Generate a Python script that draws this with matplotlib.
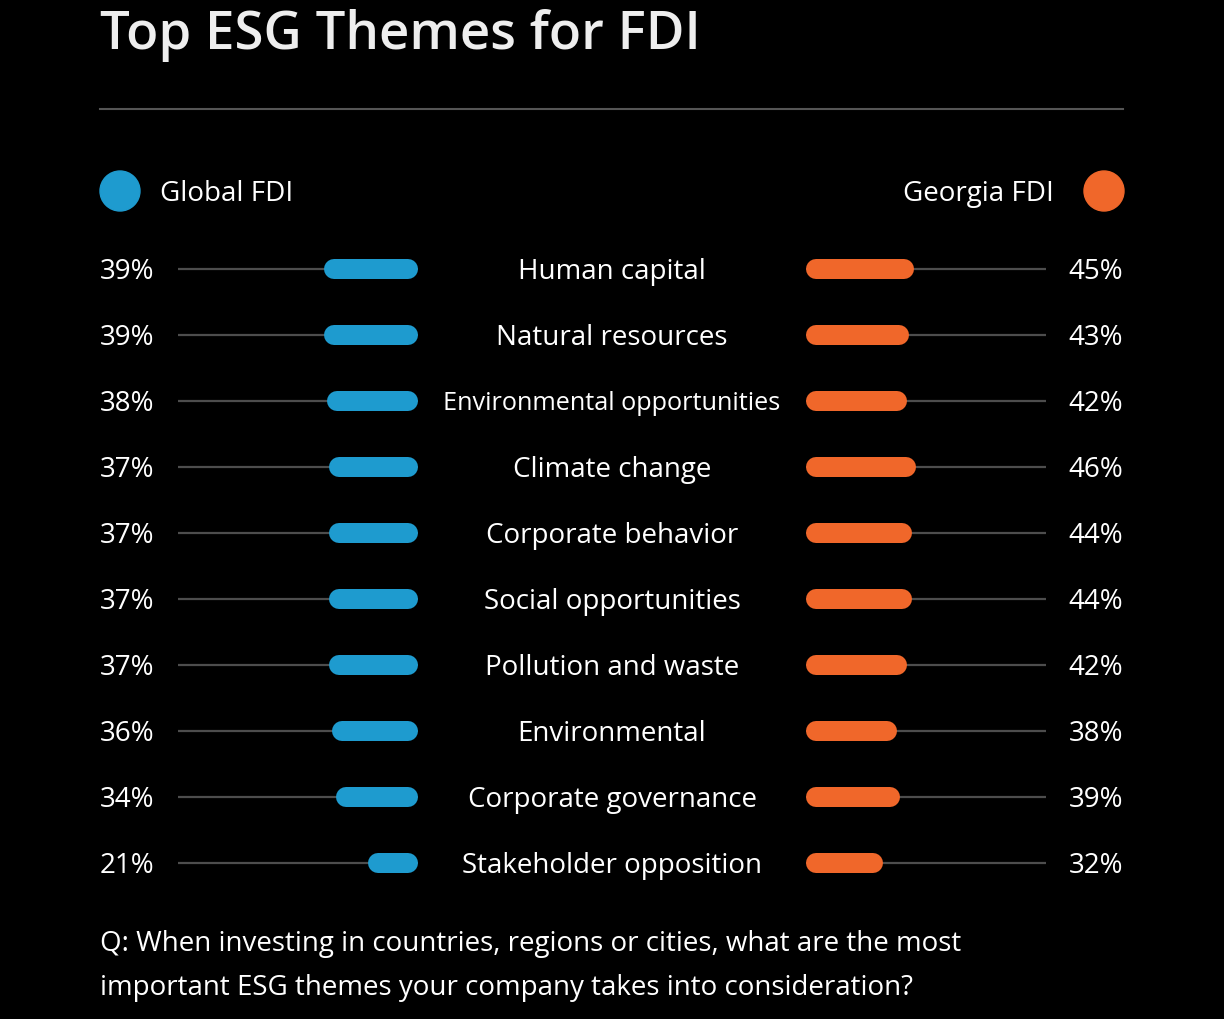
import matplotlib
matplotlib.use("Agg")
import matplotlib.pyplot as plt
import numpy as np
from matplotlib.patches import Ellipse

categories = ["Human capital", "Natural resources", "Environmental opportunities",
              "Climate change", "Corporate behavior", "Social opportunities",
              "Pollution and waste", "Environmental", "Corporate governance",
              "Stakeholder opposition"]
global_fdi = [39, 39, 38, 37, 37, 37, 37, 36, 34, 21]
georgia_fdi = [45, 43, 42, 46, 44, 44, 42, 38, 39, 32]
series_names = ["Global FDI", "Georgia FDI"]
title = "Top ESG Themes for FDI"
question = ("Q: When investing in countries, regions or cities, what are the most\n"
            "important ESG themes your company takes into consideration?")

BLUE = "#1E9BCF"
ORANGE = "#F0672A"
GRID = "#4d4d4d"
WHITE = "#FFFFFF"
FONT = "Open Sans"
FS = 20
MAX_LABEL_W = 338  # px available between the bars for a centre label

W, H = 1224, 1020
fig = plt.figure(figsize=(W / 100, H / 100), dpi=100, facecolor="black")


def fx(px):
    return px / W


def fy(py):
    return 1 - py / H


row_top, row_step = 270, 66
n = len(categories)
ax_top = row_top - row_step / 2
ax_h = row_step * n


def make_ax(x0, x1, invert):
    ax = fig.add_axes([fx(x0), fy(ax_top + ax_h), fx(x1 - x0), ax_h / H])
    ax.set_facecolor("none")
    ax.set_xlim((100, 0) if invert else (0, 100))
    ax.set_ylim(n - 0.5, -0.5)
    ax.axis("off")
    return ax


axL = make_ax(178, 418, True)
axR = make_ax(806, 1046, False)

bar_h_px = 20
lw_pt = bar_h_px * 72 / 100
r_data = (bar_h_px / 2) / 2.4  # pixels -> percent units (240px = 100%)

ys = np.arange(n)
for ax, vals, col in [(axL, global_fdi, BLUE), (axR, georgia_fdi, ORANGE)]:
    for y, v in zip(ys, vals):
        ax.plot([0, 100], [y, y], color=GRID, lw=1.6, solid_capstyle="butt", zorder=1)
        ax.plot([r_data, v - r_data], [y, y], color=col, lw=lw_pt,
                solid_capstyle="round", zorder=2)

renderer = fig.canvas.get_renderer()
dy = 2
for i, (c, g, ge) in enumerate(zip(categories, global_fdi, georgia_fdi)):
    y = row_top + i * row_step + dy
    t = fig.text(fx(612), fy(y), c, ha="center", va="center", color=WHITE,
                 fontsize=FS, family=FONT)
    w = t.get_window_extent(renderer).width
    if w > MAX_LABEL_W:
        t.set_fontsize(FS * MAX_LABEL_W / w)
    fig.text(fx(100), fy(y), f"{g}%", ha="left", va="center", color=WHITE,
             fontsize=FS, family=FONT)
    fig.text(fx(1123), fy(y), f"{ge}%", ha="right", va="center", color=WHITE,
             fontsize=FS, family=FONT)

# title
fig.text(fx(100), fy(36), title, ha="left", va="center", color="#EEEEEE",
         fontsize=38, fontweight="semibold", family="Open Sans")
# separator line
fig.add_artist(plt.Line2D([fx(100), fx(1123)], [fy(110), fy(110)],
                          color="#555555", lw=1.5))

# legend
fig.add_artist(Ellipse((fx(120), fy(192)), 40 / W, 40 / H, color=BLUE,
                       transform=fig.transFigure))
fig.add_artist(Ellipse((fx(1104), fy(192)), 40 / W, 40 / H, color=ORANGE,
                       transform=fig.transFigure))
fig.text(fx(160), fy(192 + dy), series_names[0], ha="left", va="center", color=WHITE,
         fontsize=FS, family=FONT)
fig.text(fx(1054), fy(192 + dy), series_names[1], ha="right", va="center", color=WHITE,
         fontsize=FS, family=FONT)

# question
fig.text(fx(100), fy(966), question, ha="left", va="center", color=WHITE,
         fontsize=FS, family=FONT, linespacing=1.72)

fig.savefig("out.png", dpi=100, facecolor="black")
